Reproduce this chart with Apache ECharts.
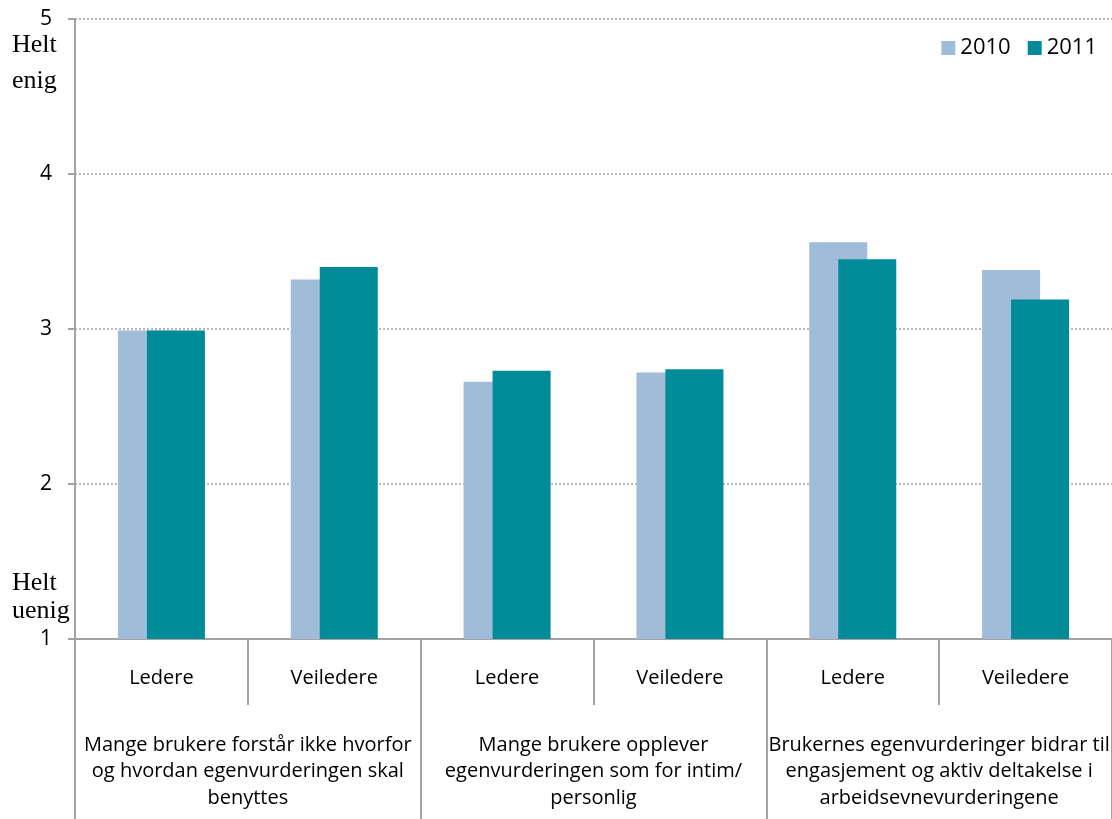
<!DOCTYPE html>
<html>
<head>
<meta charset="utf-8">
<script src="https://cdn.jsdelivr.net/npm/echarts@6/dist/echarts.min.js"></script>
<style>
  html, body { margin: 0; padding: 0; background: #ffffff; }
  #chart { width: 1112px; height: 819px; }
</style>
</head>
<body>
<div id="chart"></div>
<script>
// Respondent roles (inner axis level) and statements (outer axis level)
const roles = ['Ledere', 'Veiledere', 'Ledere', 'Veiledere', 'Ledere', 'Veiledere'];
const statements = [
  'Mange brukere forstår ikke hvorfor\nog hvordan egenvurderingen skal\nbenyttes',
  'Mange brukere opplever\negenvurderingen som for intim/\npersonlig',
  'Brukernes egenvurderinger bidrar til\nengasjement og aktiv deltakelse i\narbeidsevnevurderingene'
];
const seriesNames = ['2010', '2011'];
// Mean agreement score (1 = Helt uenig, 5 = Helt enig)
const values2010 = [2.99, 3.32, 2.66, 2.72, 3.56, 3.38];
const values2011 = [2.99, 3.40, 2.73, 2.74, 3.45, 3.19];
const yTicks = [1, 2, 3, 4, 5];

const sans = '"Open Sans", "DejaVu Sans", sans-serif';
const serif = '"Liberation Serif", "DejaVu Serif", serif';
const axisGrey = '#A3A3A3';

const chart = echarts.init(document.getElementById('chart'), null, { renderer: 'canvas' });

chart.setOption({
  backgroundColor: '#ffffff',
  animation: false,
  legend: {
    data: seriesNames,
    right: 15,
    top: 37,
    padding: 0,
    icon: 'rect',
    itemWidth: 14,
    itemHeight: 14,
    itemGap: 17,
    textStyle: { fontFamily: sans, fontSize: 22, color: '#000' }
  },
  grid: { left: 75, top: 19, width: 1044, height: 620, containLabel: false },
  yAxis: {
    type: 'value',
    min: yTicks[0],
    max: yTicks[yTicks.length - 1],
    interval: 1,
    axisLine: { show: true, lineStyle: { color: axisGrey, width: 2 } },
    axisTick: { show: true, length: 7, lineStyle: { color: axisGrey, width: 2 } },
    axisLabel: {
      margin: 23,
      fontFamily: sans,
      fontSize: 21,
      color: '#000',
      padding: [12, 0, 0, 0]
    },
    splitLine: { show: true, lineStyle: { color: axisGrey, width: 1.5, type: [2, 2] } }
  },
  xAxis: [
    {
      type: 'category',
      data: roles,
      position: 'bottom',
      axisLine: { show: true, lineStyle: { color: axisGrey, width: 2 } },
      axisTick: { show: true, length: 66, interval: 0, lineStyle: { color: axisGrey, width: 2 } },
      axisLabel: { interval: 0, margin: 29, fontFamily: sans, fontSize: 20, color: '#000' },
      splitLine: { show: false }
    },
    {
      type: 'category',
      data: statements,
      position: 'bottom',
      axisLine: { show: false },
      axisTick: { show: true, length: 182, interval: 0, lineStyle: { color: axisGrey, width: 2 } },
      axisLabel: {
        interval: 0,
        margin: 93,
        fontFamily: sans,
        fontSize: 20,
        lineHeight: 26.5,
        color: '#000',
        align: 'center'
      },
      splitLine: { show: false }
    }
  ],
  series: [
    {
      name: seriesNames[0],
      type: 'bar',
      xAxisIndex: 0,
      data: values2010,
      barWidth: 58,
      barGap: '-50%',
      itemStyle: { color: '#A0BCD8' }
    },
    {
      name: seriesNames[1],
      type: 'bar',
      xAxisIndex: 0,
      data: values2011,
      barWidth: 58,
      barGap: '-50%',
      itemStyle: { color: '#008B99' }
    }
  ],
  graphic: [
    { type: 'text', left: 12, top: 32, style: { text: 'Helt', font: '26px ' + serif, fill: '#000' } },
    { type: 'text', left: 12, top: 68, style: { text: 'enig', font: '26px ' + serif, fill: '#000' } },
    { type: 'text', left: 12, top: 570, style: { text: 'Helt', font: '26px ' + serif, fill: '#000' } },
    { type: 'text', left: 12, top: 598, style: { text: 'uenig', font: '26px ' + serif, fill: '#000' } }
  ]
});
</script>
</body>
</html>
